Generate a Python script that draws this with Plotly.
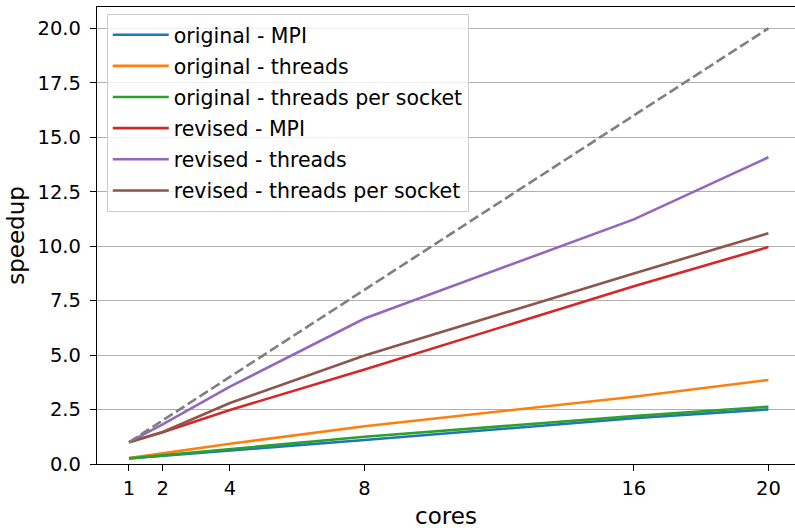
import plotly.graph_objects as go

# Core counts and measured speedups
cores = [1, 2, 4, 8, 16, 20]

orig_mpi = [0.26, 0.38, 0.64, 1.10, 2.10, 2.51]
orig_threads = [0.27, 0.48, 0.93, 1.73, 3.09, 3.86]
orig_threads_socket = [0.26, 0.40, 0.69, 1.25, 2.20, 2.63]
rev_mpi = [1.00, 1.46, 2.48, 4.34, 8.16, 9.96]
rev_threads = [1.00, 1.82, 3.55, 6.68, 11.23, 14.08]
rev_threads_socket = [1.00, 1.47, 2.80, 4.98, 8.75, 10.59]

ideal = cores[:]  # linear speedup reference

series = [
    ("original - MPI", orig_mpi, "#1f77b4"),
    ("original - threads", orig_threads, "#ff7f0e"),
    ("original - threads per socket", orig_threads_socket, "#2ca02c"),
    ("revised - MPI", rev_mpi, "#d62728"),
    ("revised - threads", rev_threads, "#9467bd"),
    ("revised - threads per socket", rev_threads_socket, "#8c564b"),
]

x_ticks = [1, 2, 4, 8, 16, 20]
y_ticks = [0, 2.5, 5, 7.5, 10, 12.5, 15, 17.5, 20]

FONT = "DejaVu Sans"

fig = go.Figure()

for i, (name, vals, color) in enumerate(series):
    fig.add_trace(go.Scatter(
        x=cores, y=vals, mode="lines", name=name,
        line=dict(color=color, width=2.6),
        legendgroup=f"g{i}",
    ))

fig.add_trace(go.Scatter(
    x=cores, y=ideal, mode="lines", showlegend=False,
    line=dict(color="#7f7f7f", width=2.6, dash="10px,4px"),
))

fig.update_layout(
    width=795, height=530,
    margin=dict(l=97, r=0, t=7, b=66),
    plot_bgcolor="white", paper_bgcolor="white",
    font=dict(family=FONT, size=19.5, color="black"),
    legend=dict(
        x=0.014, y=0.985, xanchor="left", yanchor="top",
        bgcolor="rgba(255,255,255,0.8)",
        bordercolor="#cccccc", borderwidth=1,
        font=dict(family=FONT, size=20.5, color="black"),
        tracegroupgap=1.5,
        itemwidth=56,
        traceorder="grouped",
    ),
    xaxis=dict(
        range=[0.05, 20.79],
        tickmode="array", tickvals=x_ticks,
        ticks="outside", ticklen=6, tickwidth=1.3, tickcolor="black",
        showline=True, linecolor="black", linewidth=1.3, mirror=True,
        showgrid=False, zeroline=False,
        title=dict(text="cores", standoff=9),
    ),
    yaxis=dict(
        range=[0, 20.98],
        tickmode="array", tickvals=y_ticks, tickformat=".1f",
        ticks="outside", ticklen=6, tickwidth=1.3, tickcolor="black",
        ticklabelstandoff=5,
        showline=True, linecolor="black", linewidth=1.3,
        showgrid=True, gridcolor="#b0b0b0", gridwidth=1.3,
        zeroline=False,
        title=dict(text="speedup", standoff=6),
    ),
)

fig.write_html("out.html")
